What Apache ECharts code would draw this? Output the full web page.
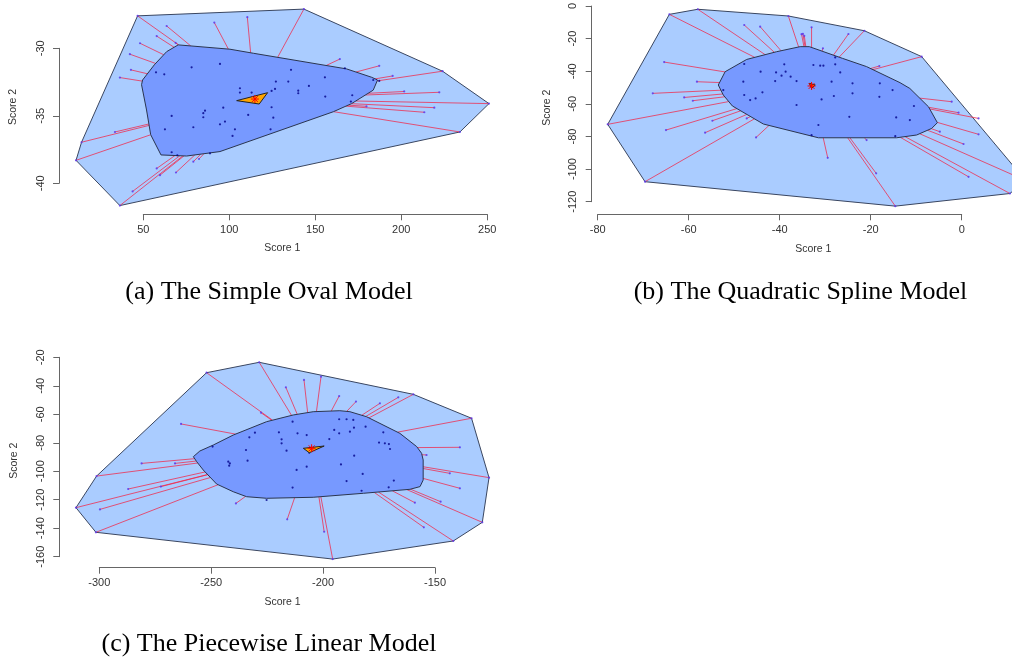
<!DOCTYPE html>
<html><head><meta charset="utf-8">
<script src="https://cdn.jsdelivr.net/npm/echarts@6/dist/echarts.min.js"></script>
<style>html,body{margin:0;padding:0;background:#fff}#c{width:1012px;height:659px}</style>
</head><body><div id="c"></div>
<script>
// ---------- Panel (a): Simple Oval Model ----------
const captionA = "(a) The Simple Oval Model";
const hullA = [[46.7,-27.6],[143.4,-27.1],[224.0,-31.7],[251.0,-34.1],[234.1,-36.2],[36.4,-41.65],[10.9,-38.3],[14.1,-36.96]];
const bagA = [[70.3,-29.75],[63.6,-30.25],[56.4,-31.23],[49.6,-32.35],[49.0,-32.7],[51.9,-34.57],[54.3,-36.4],[60.3,-37.9],[75.2,-37.98],[94.6,-37.65],[160.5,-34.7],[171.1,-34.1],[183.7,-33.1],[186.2,-32.35],[182.8,-32.15],[168.2,-31.53],[114.0,-30.37],[100.4,-30.07]];
const medA = [[104.3,-33.88],[122.3,-33.29],[117.4,-34.13]];
const centerA = [114.9,-33.76];
const innerA = [[78.1,-31.41],[94.6,-31.16],[57.4,-31.78],[62.2,-31.93],[135.9,-31.6],[127.1,-32.47],[134.3,-32.47],[146.3,-32.79],[155.6,-32.15],[167.2,-31.48],[106.2,-32.96],[106.2,-33.28],[113.0,-33.28],[124.6,-33.16],[126.6,-33.01],[140.1,-33.14],[140.1,-33.33],[155.8,-33.58],[171.5,-33.48],[170.7,-33.95],[96.5,-34.4],[85.9,-34.62],[84.9,-34.81],[84.9,-35.11],[66.5,-35.01],[124.6,-34.37],[125.6,-35.14],[111.0,-34.94],[97.5,-35.43],[94.6,-35.63],[103.3,-36.0],[101.9,-36.49],[79.1,-35.85],[62.6,-36.0],[124.0,-36.0],[88.8,-37.78],[66.5,-37.7],[69.8,-37.93],[183.7,-32.35],[187.2,-32.42]];
const outerA = [[46.7,-27.6],[143.4,-27.1],[224.0,-31.7],[251.0,-34.1],[234.1,-36.2],[36.4,-41.65],[10.9,-38.3],[14.1,-36.96],[57.8,-29.1],[63.6,-28.35],[48.1,-29.63],[42.2,-30.44],[42.8,-31.6],[36.4,-32.17],[91.3,-28.1],[110.5,-27.7],[164.3,-30.8],[187.2,-31.3],[195.0,-32.05],[201.7,-33.2],[222.1,-33.26],[219.2,-34.4],[213.4,-34.74],[33.5,-36.2],[43.8,-40.6],[57.8,-38.9],[59.7,-39.4],[69.0,-39.2],[79.1,-38.4],[82.4,-38.2],[68.8,-29.6],[179.8,-34.3]];
const xTicksA = [50,250,50], yTicksA = [-40,-30,5];

// ---------- Panel (b): Quadratic Spline Model ----------
const captionB = "(b) The Quadratic Spline Model";
const hullB = [[-64.25,-5.7],[-58.0,-2.6],[-38.1,-6.7],[-21.4,-15.7],[-8.8,-31.5],[14.0,-107.0],[10.6,-115.0],[-14.6,-122.7],[-69.6,-107.8],[-77.8,-72.8]];
const bagB = [[-47.25,-33.2],[-52.0,-40.7],[-53.5,-48.8],[-52.4,-54.9],[-50.4,-61.6],[-43.6,-72.6],[-31.5,-81.0],[-14.3,-81.0],[-9.9,-79.3],[-6.6,-75.3],[-5.35,-71.8],[-7.3,-62.1],[-11.4,-50.9],[-13.55,-47.4],[-20.9,-37.6],[-26.2,-32.55],[-33.5,-25.4],[-35.5,-25.4],[-40.7,-28.5]];
const medB = [[-33.5,-47.8],[-32.2,-48.8],[-33.0,-50.9]];
const centerB = [-33.0,-49.4];
const innerB = [[-47.8,-36.0],[-44.2,-40.7],[-39.0,-36.2],[-40.8,-41.1],[-39.6,-43.1],[-38.7,-40.7],[-37.6,-43.7],[-36.3,-46.4],[-41.0,-46.4],[-48.0,-46.8],[-52.4,-51.9],[-47.8,-54.9],[-46.5,-58.0],[-45.3,-57.0],[-43.8,-53.3],[-36.3,-61.0],[-32.6,-36.6],[-31.1,-37.0],[-30.4,-37.0],[-27.8,-36.2],[-26.7,-41.1],[-28.6,-46.8],[-24.0,-47.8],[-30.8,-57.6],[-28.1,-55.5],[-24.0,-53.9],[-18.0,-47.8],[-15.2,-51.9],[-18.1,-56.0],[-10.5,-61.6],[-14.4,-68.6],[-11.4,-70.2],[-24.7,-68.2],[-31.5,-73.2],[-33.0,-79.4],[-27.8,-32.0],[-14.6,-80.0]];
const outerB = [[-64.25,-5.7],[-58.0,-2.6],[-38.1,-6.7],[-21.4,-15.7],[-8.8,-31.5],[14.0,-107.0],[10.6,-115.0],[-14.6,-122.7],[-69.6,-107.8],[-77.8,-72.8],[-47.8,-12.2],[-44.3,-13.2],[-33.0,-13.6],[-35.2,-17.8],[-34.9,-17.6],[-34.6,-18.8],[-30.5,-26.4],[-24.9,-17.7],[-18.1,-37.2],[-65.4,-34.8],[-58.2,-46.8],[-67.9,-53.9],[-61.0,-56.4],[-59.1,-58.4],[-65.0,-76.3],[-56.4,-77.9],[-54.8,-70.6],[-47.25,-69.2],[-45.2,-80.8],[-29.45,-93.2],[-18.8,-102.7],[-20.9,-82.4],[-2.2,-59.0],[-0.7,-65.7],[3.7,-69.2],[3.7,-78.9],[0.4,-84.8],[1.5,-104.8],[-4.8,-77.3]];
const xTicksB = [-80,0,20], yTicksB = [-120,0,20];

// ---------- Panel (c): Piecewise Linear Model ----------
const captionC = "(c) The Piecewise Linear Model";
const hullC = [[-252.1,-30.8],[-228.6,-23.5],[-159.8,-46.0],[-133.8,-62.8],[-126.0,-104.5],[-129.0,-135.9],[-141.96,-149.0],[-195.8,-161.7],[-301.5,-142.9],[-310.4,-125.6],[-301.2,-103.4]];
const bagC = [[-258.0,-89.8],[-255.1,-85.8],[-249.1,-81.6],[-240.2,-74.6],[-225.3,-65.2],[-213.4,-60.5],[-204.5,-58.2],[-192.6,-57.5],[-188.1,-58.2],[-180.7,-61.7],[-165.8,-73.4],[-158.3,-82.7],[-156.1,-87.4],[-155.4,-92.1],[-155.4,-106.2],[-156.8,-110.8],[-161.3,-112.7],[-182.1,-115.5],[-204.5,-118.3],[-225.3,-119.0],[-234.2,-117.9],[-240.2,-114.4],[-247.6,-109.0],[-253.6,-99.1],[-256.5,-93.3]];
const medC = [[-208.9,-83.9],[-199.6,-82.3],[-206.25,-87.0]];
const centerC = [-205.2,-83.9];
const innerC = [[-249.4,-82.7],[-234.5,-85.1],[-233.8,-92.6],[-242.4,-93.3],[-241.7,-94.5],[-242.0,-96.1],[-233.0,-76.2],[-230.5,-72.9],[-219.8,-72.7],[-218.6,-77.6],[-218.6,-80.4],[-216.4,-85.6],[-213.7,-65.2],[-211.5,-73.4],[-207.4,-74.6],[-197.3,-77.4],[-192.9,-63.5],[-189.6,-63.5],[-186.6,-64.0],[-195.1,-71.0],[-192.9,-73.4],[-188.1,-72.2],[-186.3,-69.4],[-181.1,-68.7],[-173.2,-72.7],[-175.1,-79.9],[-172.5,-80.4],[-170.7,-80.9],[-170.2,-84.4],[-186.2,-89.1],[-192.1,-95.2],[-207.4,-96.8],[-211.9,-99.1],[-182.4,-101.9],[-189.6,-106.9],[-213.7,-111.5],[-182.9,-113.7],[-168.5,-106.6],[-170.8,-111.3],[-225.3,-120.2],[-206.25,-87.0]];
const outerC = [[-252.1,-30.8],[-228.6,-23.5],[-159.8,-46.0],[-133.8,-62.8],[-126.0,-104.5],[-129.0,-135.9],[-141.96,-149.0],[-195.8,-161.7],[-301.5,-142.9],[-310.4,-125.6],[-301.2,-103.4],[-227.8,-58.9],[-216.7,-41.1],[-208.6,-35.9],[-201.0,-33.6],[-192.9,-47.2],[-185.4,-51.1],[-174.7,-52.3],[-166.5,-48.1],[-139.0,-83.2],[-153.9,-88.6],[-139.0,-112.0],[-147.6,-121.4],[-159.1,-122.1],[-155.1,-139.4],[-143.5,-101.5],[-199.6,-142.5],[-216.1,-133.8],[-239.0,-122.6],[-263.5,-66.8],[-281.1,-94.5],[-287.1,-112.5],[-272.5,-110.8],[-299.7,-126.8],[-266.2,-94.5]];
const xTicksC = [-300,-150,50], yTicksC = [-160,-20,20];

const axisTitleX = "Score 1", axisTitleY = "Score 2";

// ---------- helpers ----------
function cutToBag(p, c, bag) {
  let best = null;
  for (let i = 0; i < bag.length; i++) {
    const a = bag[i], b = bag[(i + 1) % bag.length];
    const rx = c[0] - p[0], ry = c[1] - p[1];
    const sx = b[0] - a[0], sy = b[1] - a[1];
    const den = rx * sy - ry * sx;
    if (Math.abs(den) < 1e-12) continue;
    const t = ((a[0] - p[0]) * sy - (a[1] - p[1]) * sx) / den;
    const u = ((a[0] - p[0]) * ry - (a[1] - p[1]) * rx) / den;
    if (t >= 0 && t <= 1 && u >= 0 && u <= 1) { if (best === null || t < best) best = t; }
  }
  if (best === null || best < 1e-6) return null;
  return [p[0], p[1], p[0] + best * (c[0] - p[0]), p[1] + best * (c[1] - p[1])];
}
function polySeries(idx, poly, fill, stroke, z) {
  return { type: 'custom', xAxisIndex: idx, yAxisIndex: idx, z: z, silent: true, clip: true,
    data: [poly[0]],
    renderItem: (params, api) => ({ type: 'polygon',
      shape: { points: poly.map(p => api.coord(p)) },
      style: { fill: fill, stroke: stroke, lineWidth: 1 } }) };
}
function panelSeries(idx, hull, bag, med, center, inner, outer) {
  const segs = outer.map(p => cutToBag(p, center, bag)).filter(s => s);
  return [
    polySeries(idx, hull, '#aaccff', '#3a4660', 1),
    { type: 'custom', xAxisIndex: idx, yAxisIndex: idx, z: 2, silent: true, clip: true,
      data: segs, encode: { x: [0, 2], y: [1, 3] },
      renderItem: (params, api) => {
        const a = api.coord([api.value(0), api.value(1)]), b = api.coord([api.value(2), api.value(3)]);
        return { type: 'line', shape: { x1: a[0], y1: a[1], x2: b[0], y2: b[1] },
          style: { stroke: '#f0284a', lineWidth: 0.9, opacity: 0.85 } };
      } },
    polySeries(idx, bag, '#7799ff', '#2a3550', 3),
    { type: 'scatter', xAxisIndex: idx, yAxisIndex: idx, z: 4, silent: true, symbolSize: 2.2,
      itemStyle: { color: '#5533ee' }, data: outer },
    { type: 'scatter', xAxisIndex: idx, yAxisIndex: idx, z: 4, silent: true, symbolSize: 2.2,
      itemStyle: { color: '#000088' }, data: inner },
    polySeries(idx, med, '#ffa500', '#222', 5),
    { type: 'custom', xAxisIndex: idx, yAxisIndex: idx, z: 6, silent: true,
      data: [center],
      renderItem: (params, api) => {
        const c = api.coord([api.value(0), api.value(1)]), r = 4, d = 2.9;
        const st = { stroke: '#ff0000', lineWidth: 1 };
        return { type: 'group', children: [
          { type: 'line', shape: { x1: c[0] - r, y1: c[1], x2: c[0] + r, y2: c[1] }, style: st },
          { type: 'line', shape: { x1: c[0], y1: c[1] - r, x2: c[0], y2: c[1] + r }, style: st },
          { type: 'line', shape: { x1: c[0] - d, y1: c[1] - d, x2: c[0] + d, y2: c[1] + d }, style: st },
          { type: 'line', shape: { x1: c[0] - d, y1: c[1] + d, x2: c[0] + d, y2: c[1] - d }, style: st } ] };
      } }
  ];
}

const FONT = '"Liberation Sans", Arial, sans-serif';
const labelStyle = { color: '#333', fontSize: 11, fontFamily: FONT };
function dataAxis(name, grid, min, max, gap, pad) {
  return { type: 'value', gridIndex: grid, min: min, max: max, name: name, nameLocation: 'middle', nameGap: gap,
    nameTextStyle: { color: '#333', fontSize: 10.5, fontFamily: FONT, padding: pad || 0 },
    axisLine: { show: false }, axisTick: { show: false }, axisLabel: { show: false }, splitLine: { show: false } };
}
function dispX(grid, t, offset) {
  return { type: 'value', gridIndex: grid, min: t[0], max: t[1], interval: t[2], position: 'bottom', offset: offset,
    axisLine: { show: true, onZero: false, lineStyle: { color: '#666', width: 1 } },
    axisTick: { show: true, length: 6, lineStyle: { color: '#666' } },
    axisLabel: Object.assign({ margin: 10, showMinLabel: true, showMaxLabel: true }, labelStyle), splitLine: { show: false } };
}
function dispY(grid, t, offset) {
  return { type: 'value', gridIndex: grid, min: t[0], max: t[1], interval: t[2], position: 'left', offset: offset,
    axisLine: { show: true, onZero: false, lineStyle: { color: '#666', width: 1 } },
    axisTick: { show: true, length: 6, lineStyle: { color: '#666' } },
    axisLabel: Object.assign({ margin: 13, rotate: 90, showMinLabel: true, showMaxLabel: true }, labelStyle), splitLine: { show: false } };
}

const chart = echarts.init(document.getElementById('c'), null, { renderer: 'canvas' });
const serifFont = '26px "Liberation Serif", "Times New Roman", serif';
chart.setOption({
  animation: false,
  grid: [
    { left: 59, top: 1, width: 446.5, height: 212 },
    { left: 591.7, top: 1.4, width: 420.3, height: 212.6 },
    { left: 59.4, top: 354.5, width: 446.2, height: 212.4 },
    { left: 143.3, top: 48.3, width: 344, height: 135 },
    { left: 597.7, top: 5, width: 364, height: 196.7 },
    { left: 99.3, top: 357.3, width: 335.7, height: 199.4 }
  ],
  xAxis: [
    dataAxis(axisTitleX, 0, 1.0, 260.6, 30),
    dataAxis(axisTitleX, 1, -81.32, 11.05, 30, [0, 0, 0, 23]),
    dataAxis(axisTitleX, 2, -317.8, -118.6, 30),
    dispX(3, xTicksA, 31), dispX(4, xTicksB, 12.6), dispX(5, xTicksC, 11)],
  yAxis: [
    dataAxis(axisTitleY, 0, -42.2, -26.5, 40),
    dataAxis(axisTitleY, 1, -127.5, 2.2, 39),
    dataAxis(axisTitleY, 2, -167.2, -18.02, 40),
    dispY(3, yTicksA, 84.3), dispY(4, yTicksB, 6), dispY(5, yTicksC, 40)],
  series: [].concat(
    panelSeries(0, hullA, bagA, medA, centerA, innerA, outerA),
    panelSeries(1, hullB, bagB, medB, centerB, innerB, outerB),
    panelSeries(2, hullC, bagC, medC, centerC, innerC, outerC)
  ),
  graphic: [
    { type: 'text', x: 269, y: 292, style: { text: captionA, font: serifFont, fill: '#000', textAlign: 'center', textVerticalAlign: 'middle' } },
    { type: 'text', x: 800.5, y: 292, style: { text: captionB, font: serifFont, fill: '#000', textAlign: 'center', textVerticalAlign: 'middle' } },
    { type: 'text', x: 269, y: 644, style: { text: captionC, font: serifFont, fill: '#000', textAlign: 'center', textVerticalAlign: 'middle' } }
  ]
});
</script></body></html>
